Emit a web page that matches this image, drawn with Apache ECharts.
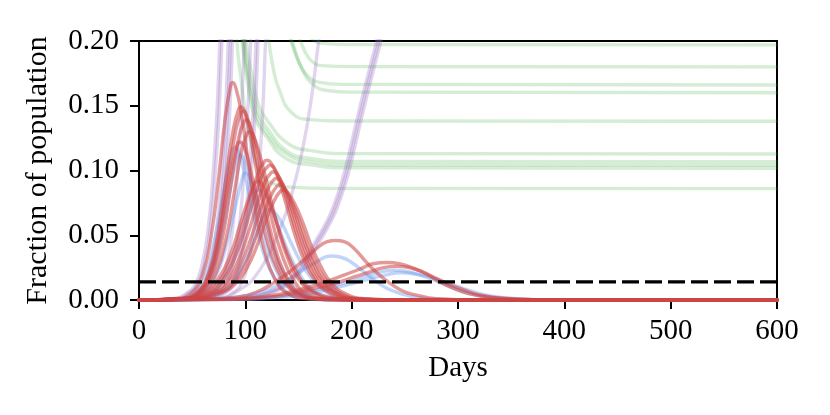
<!DOCTYPE html>
<html>
<head>
<meta charset="utf-8">
<script src="https://cdn.jsdelivr.net/npm/echarts@6/dist/echarts.min.js"></script>
<style>html,body{margin:0;padding:0;background:#fff}#c{width:830px;height:415px}</style>
</head>
<body>
<div id="c"></div>
<script>
// x axis ticks (days) and y axis ticks (fraction)
const xTicks = [0, 100, 200, 300, 400, 500, 600];
const yTicks = [0.00, 0.05, 0.10, 0.15, 0.20];
const threshold = 0.014;

// Green curves: [day, fraction]
const greenCurves = [
  [[140,0.3],[148,0.23],[155,0.21],[163,0.2015],[175,0.198],[200,0.1972],[600,0.197]],
  [[135,0.3],[143,0.23],[150,0.205],[156,0.192],[163,0.184],[172,0.181],[200,0.1802],[600,0.180]],
  [[128,0.3],[138,0.215],[145,0.195],[152,0.181],[160,0.172],[170,0.168],[190,0.1665],[600,0.166]],
  [[130,0.3],[140,0.215],[147,0.192],[154,0.177],[163,0.167],[175,0.162],[200,0.1605],[600,0.160]],
  [[112,0.3],[120,0.215],[126,0.18],[133,0.16],[142,0.146],[158,0.1395],[190,0.1382],[600,0.138]],
  [[92,0.3],[101,0.2],[106,0.175],[112,0.152],[123,0.136],[140,0.121],[160,0.1155],[200,0.113],[600,0.1127]],
  [[90,0.3],[99,0.2],[104,0.172],[111,0.147],[122,0.131],[139,0.115],[160,0.1095],[200,0.107],[600,0.1068]],
  [[89,0.3],[98,0.2],[103,0.17],[110,0.144],[121,0.128],[138,0.113],[160,0.107],[200,0.1043],[600,0.104]],
  [[88,0.3],[97,0.2],[102,0.168],[109,0.141],[120,0.126],[137,0.11],[160,0.1045],[200,0.102],[600,0.1017]],
  [[85,0.3],[92,0.2],[96,0.17],[101,0.14],[108,0.112],[116,0.097],[126,0.09],[145,0.087],[180,0.0862],[600,0.086]]
];

// Purple curves
const purpleCurves = [
  [[0,0],[31,0.001],[46,0.006],[54,0.014],[60,0.03],[65,0.055],[69,0.09],[73,0.14],[76,0.2],[80,0.28]],
  [[0,0],[33,0.001],[48,0.006],[56,0.014],[62,0.03],[67,0.055],[71,0.09],[75,0.14],[78,0.2],[82,0.28]],
  [[0,0],[39,0.001],[54,0.006],[62,0.014],[68,0.03],[73,0.055],[77,0.09],[81,0.14],[84,0.2],[88,0.28]],
  [[0,0],[41,0.001],[56,0.006],[64,0.014],[70,0.03],[75,0.055],[79,0.09],[83,0.14],[86,0.2],[90,0.28]],
  [[0,0],[43,0.001],[58,0.006],[66,0.014],[72,0.03],[77,0.055],[81,0.09],[85,0.14],[88,0.2],[92,0.28]],
  [[0,0],[54,0.001],[69,0.006],[77,0.014],[83,0.03],[88,0.055],[92,0.09],[96,0.14],[99,0.2],[103,0.28]],
  [[0,0],[60,0.001],[75,0.006],[83,0.014],[89,0.03],[94,0.055],[98,0.09],[102,0.14],[105,0.2],[109,0.28]],
  [[0,0],[65,0.001],[80,0.006],[88,0.014],[94,0.03],[99,0.055],[103,0.09],[107,0.14],[110,0.2],[114,0.28]],
  [[0,0],[67,0.001],[82,0.006],[90,0.014],[96,0.03],[101,0.055],[105,0.09],[109,0.14],[112,0.2],[116,0.28]],
  [[0,0],[74,0.001],[89,0.006],[97,0.014],[103,0.03],[108,0.055],[112,0.09],[116,0.14],[119,0.2],[123,0.28]],
  [[0,0],[70,0.001],[95,0.008],[115,0.025],[130,0.05],[139,0.069],[145,0.086],[154,0.117],[162,0.155],[169,0.2],[175,0.235]],
  [[0,0],[90,0.001],[110,0.003],[130,0.008],[142,0.015],[154,0.026],[167,0.044],[180,0.063],[186,0.075],[195,0.098],[208,0.143],[218,0.176],[227,0.205],[235,0.235]],
  [[0,0],[92,0.001],[112,0.003],[132,0.008],[144,0.015],[156,0.026],[169,0.044],[182,0.063],[188,0.075],[197,0.098],[210,0.143],[220,0.176],[229,0.205],[237,0.235]],
  [[0,0],[88,0.001],[108,0.003],[128,0.008],[140,0.015],[152,0.026],[165,0.044],[178,0.063],[184,0.075],[193,0.098],[206,0.143],[216,0.176],[225,0.205],[233,0.235]]
];

// Blue curves
const blueCurves = [
  [[0,0],[38,0.001],[52,0.006],[63,0.02],[72,0.05],[80,0.085],[86,0.11],[90,0.118],[94,0.114],[100,0.095],[107,0.068],[115,0.042],[124,0.022],[135,0.009],[150,0.002],[180,0],[600,0]],
  [[0,0],[42,0.001],[57,0.006],[68,0.02],[77,0.048],[85,0.082],[91,0.105],[95,0.112],[99,0.108],[105,0.09],[112,0.066],[120,0.042],[129,0.023],[140,0.01],[155,0.003],[185,0],[600,0]],
  [[0,0],[45,0.001],[60,0.005],[72,0.018],[82,0.042],[90,0.07],[96,0.09],[100,0.098],[104,0.095],[110,0.082],[118,0.061],[126,0.04],[135,0.023],[146,0.01],[160,0.003],[190,0],[600,0]],
  [[0,0],[50,0.001],[66,0.005],[79,0.015],[90,0.033],[99,0.055],[106,0.074],[112,0.085],[117,0.083],[124,0.072],[132,0.055],[141,0.036],[151,0.02],[163,0.008],[180,0.002],[210,0],[600,0]],
  [[0,0],[55,0.001],[72,0.004],[86,0.012],[98,0.027],[108,0.046],[116,0.062],[122,0.07],[127,0.068],[134,0.06],[142,0.046],[151,0.031],[161,0.018],[173,0.008],[190,0.002],[220,0],[600,0]],
  [[0,0],[60,0.0005],[90,0.002],[110,0.005],[127,0.01],[143,0.017],[156,0.024],[168,0.03],[180,0.034],[190,0.033],[200,0.029],[211,0.022],[222,0.015],[233,0.009],[246,0.005],[262,0.002],[285,0.0005],[320,0],[600,0]],
  [[0,0],[90,0.0005],[120,0.002],[145,0.004],[168,0.008],[188,0.012],[205,0.016],[220,0.02],[239,0.023],[252,0.022],[265,0.019],[279,0.015],[293,0.01],[307,0.006],[322,0.003],[345,0.001],[380,0],[600,0]],
  [[0,0],[100,0.0005],[130,0.002],[155,0.004],[178,0.008],[198,0.012],[215,0.016],[230,0.019],[247,0.021],[260,0.02],[273,0.018],[287,0.014],[301,0.01],[316,0.006],[332,0.003],[355,0.001],[390,0],[600,0]]
];

// Red curves
const redCurves = [
  [[0,0],[35,0.001],[50,0.006],[60,0.02],[68,0.05],[75,0.095],[81,0.14],[86,0.165],[88,0.168],[91,0.164],[96,0.145],[103,0.105],[110,0.068],[118,0.038],[128,0.016],[140,0.005],[160,0.001],[200,0],[600,0]],
  [[0,0],[40,0.001],[55,0.006],[66,0.022],[74,0.05],[82,0.095],[89,0.133],[94,0.148],[96,0.149],[99,0.146],[104,0.13],[111,0.098],[119,0.064],[128,0.035],[138,0.016],[150,0.005],[170,0.001],[210,0],[600,0]],
  [[0,0],[42,0.001],[57,0.006],[68,0.022],[76,0.05],[84,0.094],[91,0.131],[96,0.145],[98,0.146],[101,0.143],[106,0.128],[113,0.097],[121,0.063],[130,0.035],[140,0.016],[152,0.005],[172,0.001],[210,0],[600,0]],
  [[0,0],[42,0.001],[58,0.006],[70,0.022],[79,0.05],[87,0.092],[94,0.126],[99,0.138],[101,0.139],[104,0.136],[110,0.12],[117,0.092],[125,0.062],[134,0.036],[145,0.016],[158,0.005],[178,0.001],[220,0],[600,0]],
  [[0,0],[44,0.001],[60,0.006],[72,0.02],[82,0.048],[90,0.085],[97,0.117],[102,0.129],[104,0.13],[107,0.128],[113,0.114],[121,0.088],[130,0.058],[140,0.032],[151,0.015],[165,0.005],[185,0.001],[220,0],[600,0]],
  [[0,0],[40,0.001],[55,0.006],[66,0.02],[75,0.048],[83,0.085],[90,0.112],[95,0.122],[99,0.118],[105,0.1],[112,0.074],[120,0.047],[130,0.024],[142,0.009],[158,0.002],[190,0],[600,0]],
  [[0,0],[45,0.001],[62,0.005],[75,0.014],[86,0.03],[96,0.054],[105,0.08],[113,0.1],[118,0.107],[120,0.108],[124,0.106],[130,0.096],[138,0.075],[146,0.052],[155,0.031],[165,0.016],[178,0.006],[195,0.001],[230,0],[600,0]],
  [[0,0],[48,0.001],[65,0.005],[78,0.014],[89,0.03],[99,0.053],[108,0.078],[116,0.097],[121,0.103],[123,0.104],[127,0.102],[133,0.092],[141,0.072],[149,0.05],[158,0.03],[168,0.015],[181,0.006],[198,0.001],[230,0],[600,0]],
  [[0,0],[50,0.001],[68,0.005],[81,0.013],[92,0.028],[102,0.05],[111,0.074],[119,0.092],[124,0.098],[126,0.099],[130,0.097],[136,0.088],[144,0.069],[152,0.048],[161,0.029],[171,0.015],[184,0.006],[200,0.001],[235,0],[600,0]],
  [[0,0],[52,0.001],[70,0.005],[84,0.013],[95,0.027],[105,0.047],[114,0.07],[122,0.087],[127,0.093],[129,0.094],[133,0.092],[139,0.083],[147,0.066],[155,0.046],[164,0.028],[174,0.014],[187,0.005],[205,0.001],[240,0],[600,0]],
  [[0,0],[55,0.001],[73,0.005],[87,0.012],[98,0.025],[108,0.044],[117,0.066],[125,0.082],[130,0.088],[132,0.089],[136,0.087],[142,0.079],[150,0.063],[158,0.044],[167,0.027],[177,0.014],[190,0.005],[208,0.001],[245,0],[600,0]],
  [[0,0],[58,0.001],[76,0.005],[90,0.012],[101,0.024],[111,0.042],[120,0.063],[128,0.078],[133,0.084],[136,0.085],[140,0.083],[146,0.075],[154,0.06],[162,0.042],[171,0.026],[181,0.013],[194,0.005],[212,0.001],[250,0],[600,0]],
  [[0,0],[45,0.001],[62,0.006],[75,0.017],[86,0.035],[95,0.058],[103,0.078],[109,0.09],[112,0.092],[116,0.089],[122,0.078],[130,0.058],[139,0.037],[149,0.02],[160,0.009],[175,0.003],[200,0],[600,0]],
  [[0,0],[60,0.0005],[90,0.002],[110,0.006],[126,0.013],[142,0.022],[155,0.031],[166,0.039],[177,0.045],[185,0.046],[193,0.045],[202,0.04],[214,0.029],[225,0.02],[236,0.013],[248,0.007],[260,0.004],[280,0.001],[320,0],[600,0]],
  [[0,0],[80,0.0005],[110,0.002],[135,0.005],[155,0.009],[175,0.014],[192,0.019],[208,0.024],[220,0.028],[233,0.029],[245,0.028],[257,0.025],[270,0.02],[283,0.014],[296,0.009],[310,0.005],[330,0.002],[360,0.0005],[400,0],[600,0]],
  [[0,0],[90,0.0005],[120,0.002],[145,0.005],[165,0.009],[185,0.013],[203,0.018],[218,0.022],[230,0.025],[242,0.026],[254,0.025],[266,0.022],[279,0.017],[292,0.012],[305,0.008],[320,0.004],[340,0.0015],[370,0.0003],[420,0],[600,0]]
];

const FONT = 'Liberation Serif';
const series = [];
function addGroup(curves, color, width, z) {
  curves.forEach(function (c) {
    series.push({
      type: 'line', data: c, showSymbol: false, symbol: 'none',
      smooth: 0.5, clip: true, z: z,
      lineStyle: { color: color, width: width, cap: 'round', join: 'round' }, silent: true
    });
  });
}
addGroup(greenCurves, 'rgba(44,160,44,0.2)', 3.4, 2);
addGroup(purpleCurves, 'rgba(148,103,189,0.28)', 3.4, 3);
addGroup(blueCurves, 'rgba(100,149,237,0.4)', 3.4, 4);
addGroup(redCurves, 'rgba(205,70,70,0.55)', 3.4, 5);
series.push({
  type: 'line', data: [[xTicks[0], threshold], [xTicks[xTicks.length - 1], threshold]],
  symbol: 'none', z: 10, silent: true,
  lineStyle: { color: '#000', width: 3.4, type: [17, 6] }
});

const chart = echarts.init(document.getElementById('c'), null, { renderer: 'canvas' });
chart.setOption({
  animation: false,
  backgroundColor: '#fff',
  grid: { left: 139, right: 53, top: 41, bottom: 115, show: true, borderColor: '#000', borderWidth: 2, containLabel: false },
  xAxis: {
    type: 'value', min: xTicks[0], max: xTicks[xTicks.length - 1], interval: 100,
    name: 'Days', nameLocation: 'middle', nameGap: 54,
    nameTextStyle: { fontFamily: FONT, fontSize: 29, color: '#000' },
    axisLine: { show: true, lineStyle: { color: '#000', width: 2 } },
    axisTick: { show: true, length: 9, lineStyle: { color: '#000', width: 2 } },
    axisLabel: { fontFamily: FONT, fontSize: 29, color: '#000', margin: 17 },
    splitLine: { show: false }
  },
  yAxis: {
    type: 'value', min: yTicks[0], max: yTicks[yTicks.length - 1], interval: 0.05,
    name: 'Fraction of population', nameLocation: 'middle', nameGap: 86,
    nameTextStyle: { fontFamily: FONT, fontSize: 30, color: '#000' },
    axisLine: { show: true, lineStyle: { color: '#000', width: 2 } },
    axisTick: { show: true, length: 9, lineStyle: { color: '#000', width: 2 } },
    axisLabel: { fontFamily: FONT, fontSize: 29, color: '#000', margin: 20, formatter: function (v) { return v.toFixed(2); } },
    splitLine: { show: false }
  },
  series: series
});
</script>
</body>
</html>
